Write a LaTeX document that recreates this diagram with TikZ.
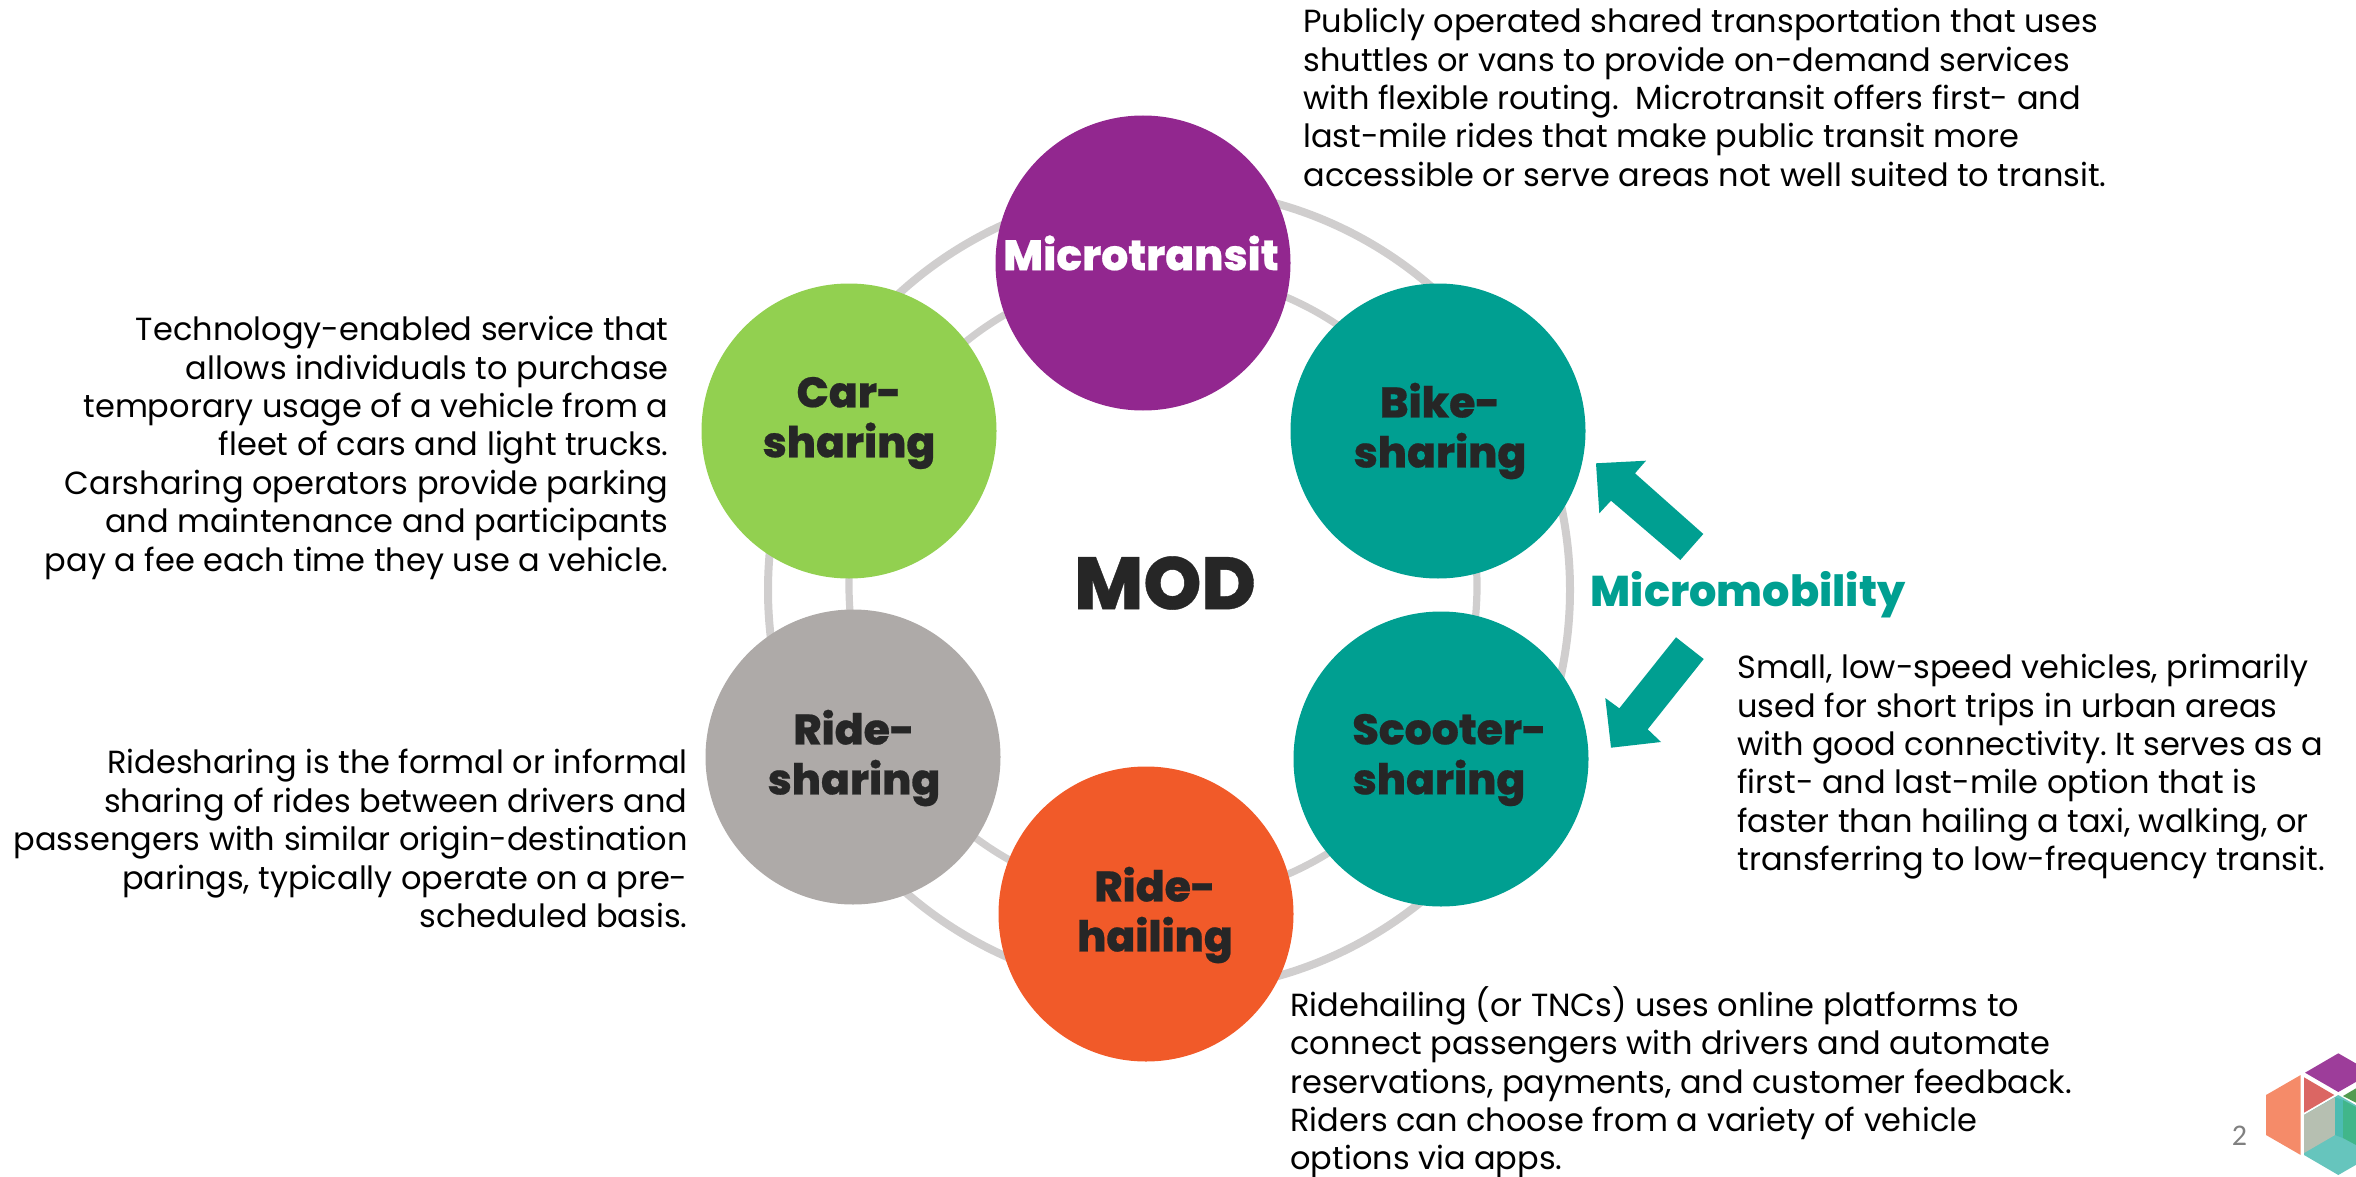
\documentclass[tikz,border=0pt]{standalone}
\usepackage{fontspec}
\setmainfont{Poppins}
\newfontfamily\heavy{Poppins ExtraBold}[FakeBold=0.5]
\newfontfamily\xbold{Poppins ExtraBold}
\newfontfamily\carl{Carlito}
\definecolor{ringc}{HTML}{D0CECE}
\definecolor{purp}{HTML}{92278F}
\definecolor{lime}{HTML}{92D050}
\definecolor{teal2}{HTML}{009F91}
\definecolor{greyc}{HTML}{AEAAA8}
\definecolor{orng}{HTML}{F15A29}
\definecolor{ink}{HTML}{262626}
\tikzset{
  bubble/.style={circle,minimum size=147.5pt,inner sep=0pt},
  blabel/.style={inner sep=0pt,align=center,text=ink,font=\fontsize{21.3}{25}\heavy},
  ring/.style={draw=ringc,fill=none},
  body/.style={inner sep=0pt,font=\frenchspacing\fontsize{16}{19.2}\selectfont,text=black},
  bodyl/.style={body,anchor=north west,align=left},
  bodyr/.style={body,anchor=north east,align=right},
  arrowp/.style={fill=teal2,draw=none},
}
\begin{document}
\begin{tikzpicture}[x=0.5pt,y=-0.5pt]
\useasboundingbox (0,0) rectangle (2356,1177);
% rings
\coordinate (oc) at (1169,590);
\coordinate (ic) at (1163,586);
\draw[ring,line width=4pt] (oc) circle[radius=401];
\draw[ring,line width=3.6pt] (ic) circle[radius=314];
% bubbles
\node[bubble,fill=purp] (micro) at (1143,263) {};
\node[bubble,fill=lime] (car) at (849,431) {};
\node[bubble,fill=teal2] (bike) at (1438,431) {};
\node[bubble,fill=greyc] (rides) at (853,757) {};
\node[bubble,fill=teal2] (scoot) at (1441,759) {};
\node[bubble,fill=orng] (hail) at (1146,914) {};
\node[blabel,text=white] (microt) at (1141,253) {Microtransit};
\node[blabel] (cart) at (849,423) {Car-\\sharing};
\node[blabel] (biket) at (1440,431) {Bike-\\sharing};
\node[blabel] (ridest) at (854,758) {Ride-\\sharing};
\node[blabel] (scoott) at (1439,760) {\hspace*{10.5pt}Scooter-\\sharing};
\node[blabel] (hailt) at (1155,915) {Ride-\\hailing};
\node[inner sep=0pt,text=ink,font=\fontsize{37}{44}\heavy] (mod) at (1165,583) {MOD};
\node[inner sep=0pt,text=teal2,font=\fontsize{21.5}{27}\xbold] (mm) at (1748,595) {Micromobility};
% arrows
\fill[arrowp] (1596,463.3) -- (1646,460.7) -- (1635,473.3) -- (1703.3,534) -- (1680.3,560) -- (1611,500.7) -- (1599.3,513.3) -- cycle;
\fill[arrowp] (1676,637.3) -- (1703.7,659) -- (1647.7,729.3) -- (1661,742) -- (1611,747.7) -- (1605.3,698) -- (1619.3,708.3) -- cycle;
% texts
\node[bodyl] (t1) at (1303,8) {Publicly operated shared transportation that uses\\shuttles or vans to provide on-demand services\\with flexible routing.\ \ Microtransit offers first- and\\last-mile rides that make public transit more\\accessible or serve areas not well suited to transit.};
\node[bodyr] (t2) at (669,316) {Technology-enabled service that\\allows individuals to purchase\\temporary usage of a vehicle from a\\fleet of cars and light trucks.\\Carsharing operators provide parking\\and maintenance and participants\\pay a fee each time they use a vehicle.};
\node[bodyr] (t3) at (688,749) {Ridesharing is the formal or informal\\sharing of rides between drivers and\\passengers with similar origin-destination\\parings, typically operate on a pre-\\scheduled basis.};
\node[bodyl] (t4) at (1737,654) {Small, low-speed vehicles, primarily\\used for short trips in urban areas\\with good connectivity. It serves as a\\first- and last-mile option that is\\faster than hailing a taxi, walking, or\\transferring to low-frequency transit.};
\node[bodyl] (t5) at (1290,986) {Ridehailing (or TNCs) uses online platforms to\\connect passengers with drivers and automate\\reservations, payments, and customer feedback.\\Riders can choose from a variety of vehicle\\options via apps.};
\node[inner sep=0pt,text=black!50,font=\carl\fontsize{15}{17}\selectfont] (pg) at (2239.5,1136) {2};
% logo
\begin{scope}
\clip (2150,1020) rectangle (2356,1177);
\fill[fill=orng!70!white] (2266,1095) -- (2300.7,1075) -- (2300.7,1155) -- (2266,1135) -- cycle;
\fill[fill=purp!90!white] (2305,1072.7) -- (2338.3,1053.3) -- (2372,1072.7) -- (2338.3,1092) -- cycle;
\fill[fill=orng!70!purp!85!white] (2304,1077.3) -- (2334.3,1095) -- (2304,1112.7) -- cycle;
\fill[fill=lime!70!teal2!80!black] (2343,1096) -- (2370,1080) -- (2370,1110) -- cycle;
\fill[fill=teal2!60!white] (2304,1115) -- (2338.3,1095) -- (2373,1115) -- (2373,1155) -- (2338.3,1175) -- (2304,1155) -- cycle;
\fill[fill=teal2!55!orng!50!white] (2304,1115) -- (2335,1097.3) -- (2335,1135) -- (2304,1153) -- cycle;
\fill[fill=teal2!70!white] (2335,1097.3) -- (2343,1100) -- (2343,1138) -- (2335,1135) -- cycle;
\fill[fill=teal2!70!lime!90!white] (2343,1100) -- (2356,1107) -- (2356,1145) -- (2343,1138) -- cycle;
\end{scope}
\end{tikzpicture}
\end{document}
